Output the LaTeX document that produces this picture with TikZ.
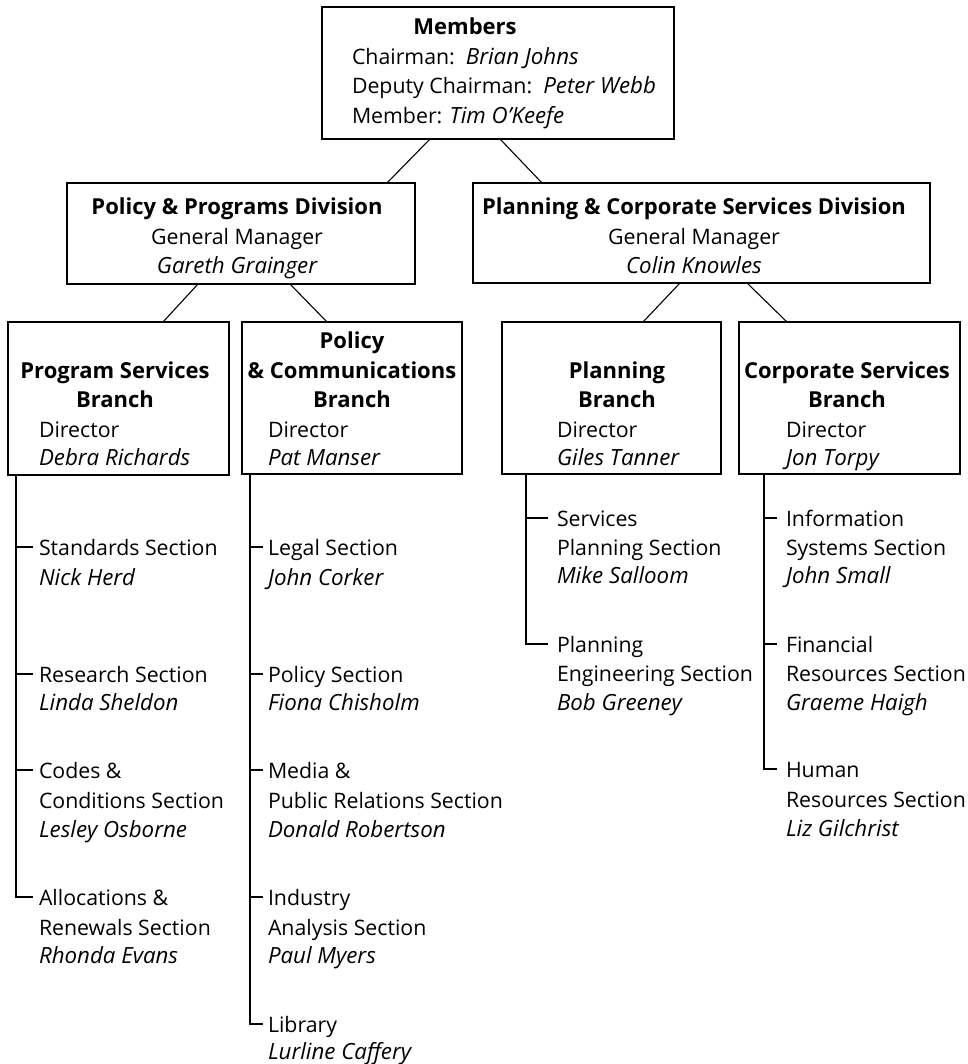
\documentclass[tikz,border=0pt]{standalone}
\usepackage{fontspec}
\setmainfont{Open Sans}
\newcommand{\rgfont}{\fontsize{21.3}{25}\selectfont}
\newcommand{\bdfont}{\fontsize{22}{26}\selectfont\bfseries}
\newcommand{\itfont}{\fontsize{22.3}{26}\selectfont\itshape}
\newcommand{\nm}[1]{{\itfont #1}}
\begin{document}
\begin{tikzpicture}[x=1pt,y=-1pt,
  box/.style={draw, line width=1.1pt, inner sep=0pt, outer sep=0pt},
  conn/.style={line width=1.1pt},
  txt/.style={inner sep=0pt, outer sep=0pt, text height=17pt, text depth=1pt,
    font=\rgfont},
  lt/.style={txt, anchor=base west},
  ct/.style={txt, anchor=base},
  bc/.style={ct, font=\bdfont},
  il/.style={lt, font=\itfont},
  ic/.style={ct, font=\itfont}]
\useasboundingbox (0,0) rectangle (967,1064);

% boxes
\node[box, minimum width=352pt, minimum height=132pt] (members) at (498,73) {};
\node[box, minimum width=348pt, minimum height=101pt] (ppd) at (241,233.5) {};
\node[box, minimum width=457pt, minimum height=100pt] (pcsd) at (701.5,233) {};
\node[box, minimum width=221pt, minimum height=153pt] (psb) at (118.5,398.5) {};
\node[box, minimum width=220pt, minimum height=152pt] (pcb) at (352,398) {};
\node[box, minimum width=219pt, minimum height=152pt] (pb) at (611.5,398) {};
\node[box, minimum width=221pt, minimum height=152pt] (csb) at (849.5,398) {};

% box texts
\node[bc] (mem0) at (465,35) {Members};
\node[lt] (mem1) at (352,65) {Chairman:\ \ \nm{Brian Johns}};
\node[lt] (mem2) at (352,94) {Deputy Chairman:\ \ \nm{Peter Webb}};
\node[lt] (mem3) at (352,124) {Member: \nm{Tim O'Keefe}};

\node[bc] (ppd0) at (237,215) {Policy \& Programs Division};
\node[ct] (ppd1) at (237,245) {General Manager};
\node[ic] (ppd2) at (237,274) {Gareth Grainger};

\node[bc] (pcsd0) at (694,215) {Planning \& Corporate Services Division};
\node[ct] (pcsd1) at (694,245) {General Manager};
\node[ic] (pcsd2) at (694,274) {Colin Knowles};

\node[bc] (psb0) at (115,378) {Program Services};
\node[bc] (psb1) at (115,407) {Branch};
\node[lt] (psb2) at (39,437) {Director};
\node[il] (psb3) at (39,465) {Debra Richards};

\node[bc] (pcb0) at (352,348) {Policy};
\node[bc] (pcb1) at (352,378) {\& Communications};
\node[bc] (pcb2) at (352,407) {Branch};
\node[lt] (pcb3) at (268,437) {Director};
\node[il] (pcb4) at (268,465) {Pat Manser};

\node[bc] (pb0) at (617,378) {Planning};
\node[bc] (pb1) at (617,407) {Branch};
\node[lt] (pb2) at (557,437) {Director};
\node[il] (pb3) at (557,465) {Giles Tanner};

\node[bc] (csb0) at (847,378) {Corporate Services};
\node[bc] (csb1) at (847,407) {Branch};
\node[lt] (csb2) at (786,437) {Director};
\node[il] (csb3) at (786,465) {Jon Torpy};

% sections: Program Services Branch
\node[lt] (std1) at (39,555) {Standards Section};
\node[il] (std2) at (39,585) {Nick Herd};
\node[lt] (res1) at (39,682) {Research Section};
\node[il] (res2) at (39,710) {Linda Sheldon};
\node[lt] (cod1) at (39,778) {Codes \&};
\node[lt] (cod2) at (39,808) {Conditions Section};
\node[il] (cod3) at (39,837) {Lesley Osborne};
\node[lt] (alc1) at (39,905) {Allocations \&};
\node[lt] (alc2) at (39,935) {Renewals Section};
\node[il] (alc3) at (39,963) {Rhonda Evans};

% Policy & Communications Branch
\node[lt] (leg1) at (268,555) {Legal Section};
\node[il] (leg2) at (268,585) {John Corker};
\node[lt] (pol1) at (268,682) {Policy Section};
\node[il] (pol2) at (268,710) {Fiona Chisholm};
\node[lt] (med1) at (268,778) {Media \&};
\node[lt] (med2) at (268,808) {Public Relations Section};
\node[il] (med3) at (268,837) {Donald Robertson};
\node[lt] (ind1) at (268,905) {Industry};
\node[lt] (ind2) at (268,935) {Analysis Section};
\node[il] (ind3) at (268,963) {Paul Myers};
\node[lt] (lib1) at (268,1032) {Library};
\node[il] (lib2) at (268,1059) {Lurline Caffery};

% Planning Branch
\node[lt] (spl1) at (557,526) {Services};
\node[lt] (spl2) at (557,555) {Planning Section};
\node[il] (spl3) at (557,583) {Mike Salloom};
\node[lt] (pen1) at (557,652) {Planning};
\node[lt] (pen2) at (557,681) {Engineering Section};
\node[il] (pen3) at (557,710) {Bob Greeney};

% Corporate Services Branch
\node[lt] (inf1) at (786,526) {Information};
\node[lt] (inf2) at (786,555) {Systems Section};
\node[il] (inf3) at (786,583) {John Small};
\node[lt] (fin1) at (786,652) {Financial};
\node[lt] (fin2) at (786,681) {Resources Section};
\node[il] (fin3) at (786,710) {Graeme Haigh};
\node[lt] (hum1) at (786,777) {Human};
\node[lt] (hum2) at (786,807) {Resources Section};
\node[il] (hum3) at (786,836) {Liz Gilchrist};

% hierarchy connectors
\draw[conn] ([xshift=108pt]members.south west) -- ([xshift=320pt]ppd.north west);
\draw[conn] ([xshift=178pt]members.south west) -- ([xshift=69pt]pcsd.north west);
\draw[conn] ([xshift=131pt]ppd.south west) -- ([xshift=155pt]psb.north west);
\draw[conn] ([xshift=223pt]ppd.south west) -- ([xshift=85pt]pcb.north west);
\draw[conn] ([xshift=207pt]pcsd.south west) -- ([xshift=141pt]pb.north west);
\draw[conn] ([xshift=274pt]pcsd.south west) -- ([xshift=48pt]csb.north west);

% trees
\coordinate (psbl) at ([xshift=8pt]psb.south west);
\coordinate (pcbl) at ([xshift=8pt]pcb.south west);
\coordinate (pbl) at ([xshift=24pt]pb.south west);
\coordinate (csbl) at ([xshift=25pt]csb.south west);

\draw[conn] (psbl) |- ([xshift=-6pt]alc1.west);
\draw[conn] (psbl |- std1.west) -- ([xshift=-6pt]std1.west);
\draw[conn] (psbl |- res1.west) -- ([xshift=-6pt]res1.west);
\draw[conn] (psbl |- cod1.west) -- ([xshift=-6pt]cod1.west);

\draw[conn] (pcbl) |- ([xshift=-5pt]lib1.west);
\draw[conn] (pcbl |- leg1.west) -- ([xshift=-5pt]leg1.west);
\draw[conn] (pcbl |- pol1.west) -- ([xshift=-5pt]pol1.west);
\draw[conn] (pcbl |- med1.west) -- ([xshift=-5pt]med1.west);
\draw[conn] (pcbl |- ind1.west) -- ([xshift=-5pt]ind1.west);

\draw[conn] (pbl) |- ([xshift=-9pt]pen1.west);
\draw[conn] (pbl |- spl1.west) -- ([xshift=-9pt]spl1.west);

\draw[conn] (csbl) |- ([xshift=-9pt]hum1.west);
\draw[conn] (csbl |- inf1.west) -- ([xshift=-9pt]inf1.west);
\draw[conn] (csbl |- fin1.west) -- ([xshift=-9pt]fin1.west);
\end{tikzpicture}
\end{document}
